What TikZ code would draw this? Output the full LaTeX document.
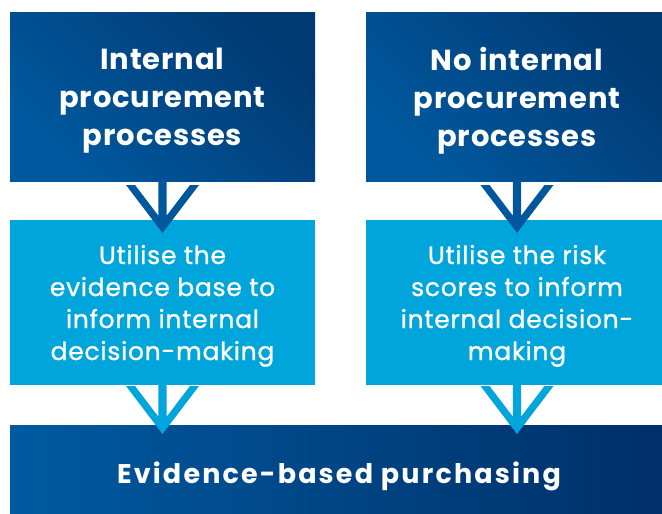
\documentclass[tikz,border=0pt]{standalone}
\usepackage{fontspec}
\setmainfont{Poppins}
\newfontfamily\headfont{Poppins}[LetterSpace=3]
\newfontfamily\stepfont{Poppins}[LetterSpace=3, FakeBold=1]
\newfontfamily\basefont{Poppins}[LetterSpace=8]
\usetikzlibrary{calc}

\definecolor{navyLight}{HTML}{00599F}
\definecolor{navyDark}{HTML}{013A73}
\definecolor{skyBox}{HTML}{00A5DC}
\definecolor{arrowNavy}{HTML}{00579C}
\definecolor{baseLeft}{HTML}{005AA0}
\definecolor{baseRight}{HTML}{002F68}

\tikzset{
  box/.style={rectangle, inner sep=0pt, outer sep=0pt, text=white, align=center},
  headbox/.style={box, minimum height=169pt, text depth=0pt,
    top color=navyDark, bottom color=navyLight, shading angle=-45,
    font=\headfont\fontsize{29}{38}\selectfont\bfseries},
  stepbox/.style={box, minimum height=165pt, fill=skyBox, text depth=0pt,
    font=\stepfont\fontsize{25}{32}\selectfont},
  basebox/.style={box, minimum height=102pt,
    left color=baseLeft, right color=baseRight,
    font=\basefont\fontsize{27}{30}\selectfont\bfseries},
  % downward chevron arrow: #1 colour, #2 gap between box edge and arm tops
  pics/chev/.style n args={2}{code={
    \fill[#1] (-36.5,#2) -- (0,#2+48) -- (36.5,#2) -- (27.5,#2)
      -- (4.2,#2+30.6) -- (4.2,-1) -- (-4.2,-1) -- (-4.2,#2+30.6)
      -- (-27.5,#2) -- cycle;
  }}
}

\begin{document}
\begin{tikzpicture}[x=1pt, y=-1pt]
  \useasboundingbox (0,0) rectangle (662,514);
  \clip (0,0) rectangle (662,514);

  % top row
  \node[headbox, minimum width=305pt] (t1) at (162.5,96.5)
    {Internal\\procurement\\processes};
  \node[headbox, minimum width=302pt] (t2) at (517,96.5)
    {No internal\\procurement\\processes};

  % middle row
  \node[stepbox, minimum width=305pt] (m1) at (162.5,302.5)
    {Utilise the\\evidence base to\\inform internal\\decision-making};
  \node[stepbox, minimum width=302pt] (m2) at (517,302.5)
    {Utilise the risk\\scores to inform\\internal decision-\\making};

  % bottom bar
  \node[basebox, minimum width=658pt] (b) at (339,476)
    {Evidence-based purchasing};

  % arrows
  \pic at (t1.south) {chev={arrowNavy}{4}};
  \pic at (t2.south) {chev={arrowNavy}{4}};
  \pic at (m1.south) {chev={skyBox}{1}};
  \pic at (m2.south) {chev={skyBox}{1}};
\end{tikzpicture}
\end{document}
